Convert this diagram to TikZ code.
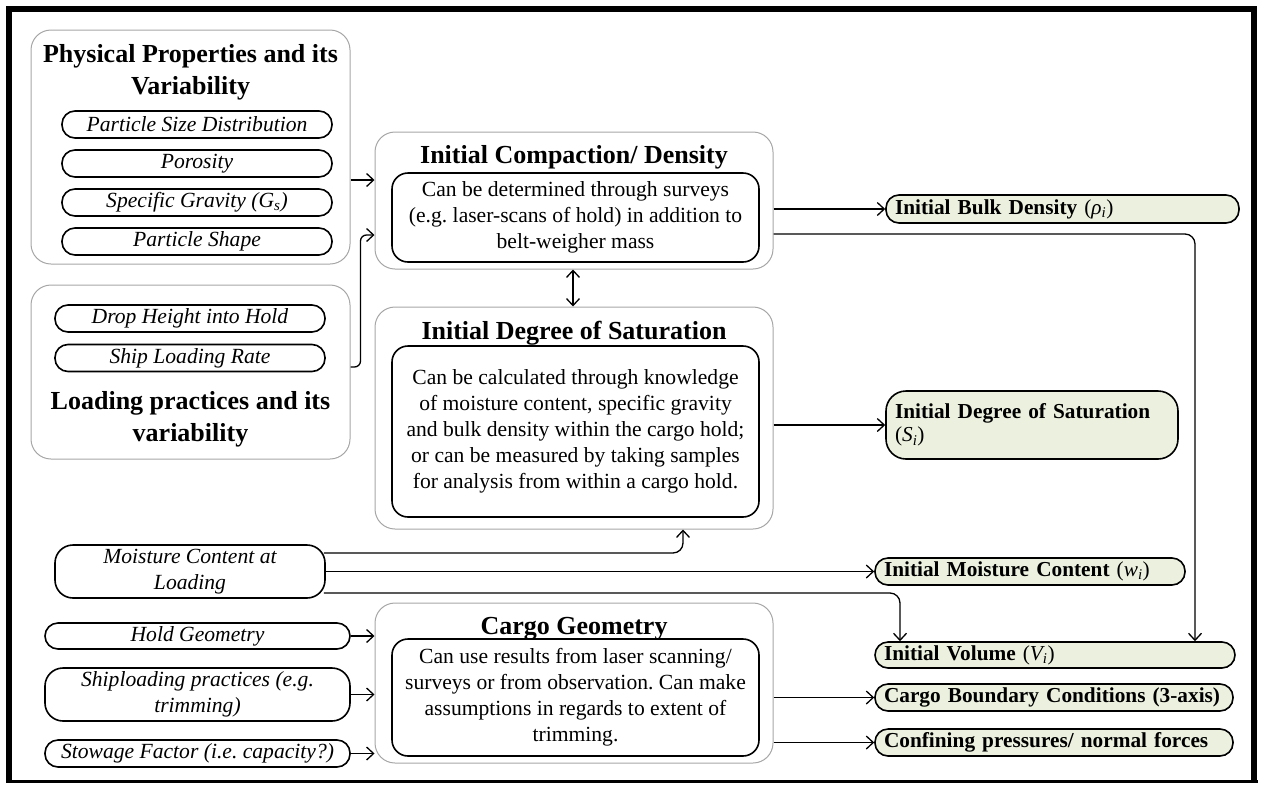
\documentclass[tikz,border=0pt]{standalone}
\usepackage{fontspec}
\setmainfont{Liberation Serif}
\usetikzlibrary{arrows.meta}

\definecolor{outgreen}{HTML}{EBF1DE}
\definecolor{grpgray}{HTML}{A6A6A6}

\frenchspacing
\newcommand\fsTitle{\fontsize{26}{31.5}\selectfont\bfseries}
\newcommand\fsBody{\fontsize{21.6}{26}\selectfont}
\newcommand\fsOut{\fontsize{21.3}{23.5}\selectfont}
\newcommand\subvar[2]{{\itshape #1\textsubscript{#2}}}

\tikzset{
  grp/.style={draw=grpgray, line width=1pt, rounded corners=20pt, inner sep=0pt},
  ttl/.style={font=\fsTitle, align=center, anchor=base, inner sep=0pt},
  inbox/.style={draw=black, line width=1.6pt, rounded corners=16pt, font=\fsBody,
                align=center, inner sep=2pt},
  pill/.style={draw=black, line width=1.6pt, rounded corners=13pt, font=\fsBody\itshape,
               align=center, inner sep=1pt},
  outp/.style={draw=black, line width=1.6pt, rounded corners=13pt, fill=outgreen,
               font=\fsOut, align=left, inner xsep=9pt, inner ysep=0pt},
  arr/.style={line width=1.3pt, -{Straight Barb[length=7pt,width=13pt]}},
  dblarr/.style={line width=1.3pt,
                 {Straight Barb[length=7pt,width=13pt]}-{Straight Barb[length=7pt,width=13pt]}}
}

\begin{document}
\begin{tikzpicture}[x=1pt,y=-1pt]
\useasboundingbox (0,0) rectangle (1263,785);

% outer frame
\draw[line width=6pt] (9,781) -- (9,9) -- (1254,9) -- (1254,783);
\draw[line width=3pt] (6,781.5) -- (1257.5,781.5);

% physical properties group (title base = last line)
\node[grp, minimum width=319pt, minimum height=234pt] (g1) at (190.5,147) {};
\node[ttl] (g1t) at (190.5,94) {Physical Properties and its\\Variability};
\node[pill, minimum width=270pt, minimum height=27pt] (psd) at (197,124.5) {Particle Size Distribution};
\node[pill, minimum width=270pt, minimum height=27pt] (por) at (197,163.5) {Porosity};
\node[pill, minimum width=270pt, minimum height=27pt] (sg) at (197,202.5) {Specific Gravity (\subvar{G}{s})};
\node[pill, minimum width=270pt, minimum height=27pt] (psh) at (197,241.5) {Particle Shape};

% loading practices group
\node[grp, minimum width=319pt, minimum height=174pt] (g2) at (190.5,372) {};
\node[ttl] (g2t) at (190.5,441) {Loading practices and its\\variability};
\node[pill, minimum width=270pt, minimum height=27pt] (dh) at (190,318.5) {Drop Height into Hold};
\node[pill, minimum width=270pt, minimum height=27pt] (slr) at (190,358) {Ship Loading Rate};

% initial compaction / density
\node[grp, minimum width=398pt, minimum height=137pt] (g3) at (574,200.5) {};
\node[ttl] (g3t) at (574,163) {Initial Compaction/ Density};
\node[inbox, minimum width=367pt, minimum height=89pt] (icin) at (575.5,217.5)
  {Can be determined through surveys\\(e.g. laser-scans of hold) in addition to\\belt-weigher mass};

% initial degree of saturation
\node[grp, minimum width=398pt, minimum height=222pt] (g4) at (574,418) {};
\node[ttl] (g4t) at (574,339) {Initial Degree of Saturation};
\node[inbox, minimum width=367pt, minimum height=171pt] (dsin) at (575.5,431.5)
  {Can be calculated through knowledge\\of moisture content, specific gravity\\and bulk density within the cargo hold;\\or can be measured by taking samples\\for analysis from within a cargo hold.};

% cargo geometry
\node[grp, minimum width=398pt, minimum height=160pt] (g5) at (574,683) {};
\node[ttl] (g5t) at (574,634) {Cargo Geometry};
\node[inbox, minimum width=367pt, minimum height=117pt] (cgin) at (575.5,697.5)
  {Can use results from laser scanning/\\surveys or from observation. Can make\\assumptions in regards to extent of\\trimming.};

% lower inputs
\node[pill, rounded corners=18pt, minimum width=270pt, minimum height=53pt] (moist) at (190,571.5) {Moisture Content at\\Loading};
\node[pill, minimum width=305pt, minimum height=26pt] (hold) at (197.5,636) {Hold Geometry};
\node[pill, rounded corners=18pt, minimum width=305pt, minimum height=53pt] (ship) at (197.5,694.5) {Shiploading practices (e.g.\\trimming)};
\node[pill, minimum width=305pt, minimum height=27pt] (stow) at (197.5,753.5) {Stowage Factor (i.e. capacity?)};

% outputs
\node[outp, text width=335pt, minimum height=28pt] (bulk) at (1062.5,209)
  {\textbf{Initial Bulk Density} (\subvar{ρ}{i})};
\node[outp, rounded corners=20pt, text width=274pt, minimum height=68pt] (sat) at (1032,425)
  {\textbf{Initial Degree of Saturation}\\(\subvar{S}{i})};
\node[outp, text width=292pt, minimum height=27pt] (imc) at (1030,571.5)
  {\textbf{Initial Moisture Content} (\subvar{w}{i})};
\node[outp, text width=342pt, minimum height=26pt] (vol) at (1055,655)
  {\textbf{Initial Volume} (\subvar{V}{i})};
\node[outp, text width=340pt, minimum height=27pt] (cbc) at (1054,697.5)
  {\textbf{Cargo Boundary Conditions (3-axis)}};
\node[outp, text width=340pt, minimum height=27pt] (conf) at (1054,742.5)
  {\textbf{Confining pressures/ normal forces}};

% connectors
\coordinate (a1) at ([yshift=-33pt]g1.east);
\draw[arr] (a1) -- (a1 -| g3.west);
\draw[arr, rounded corners=6pt] ([yshift=5pt]g2.east) -- ++(10,0) |- ([yshift=-34.5pt]g3.west);
\draw[dblarr] ([xshift=-1pt]g3.south) -- ([xshift=-1pt]g4.north);

\draw[arr] (g3.east |- bulk.west) -- (bulk.west);
\draw[arr, rounded corners=10pt] ([yshift=-33.5pt]g3.east) -| ([xshift=140pt]vol.north);
\draw[arr] (g4.east |- sat.west) -- (sat.west);

\draw[arr, rounded corners=10pt] ([xshift=-2pt,yshift=18.5pt]moist.east) -| ([xshift=109pt]g4.south);
\draw[arr] (moist.east) -- (moist.east -| imc.west);
\draw[arr, rounded corners=10pt] ([xshift=-2pt,yshift=-21.5pt]moist.east) -| ([xshift=-155pt]vol.north);

\draw[arr] (hold.east) -- (hold.east -| g5.west);
\draw[arr] (ship.east) -- (ship.east -| g5.west);
\draw[arr] (stow.east) -- (stow.east -| g5.west);

\draw[arr] (g5.east |- cbc.west) -- (cbc.west);
\draw[arr] (g5.east |- conf.west) -- (conf.west);
\end{tikzpicture}
\end{document}
